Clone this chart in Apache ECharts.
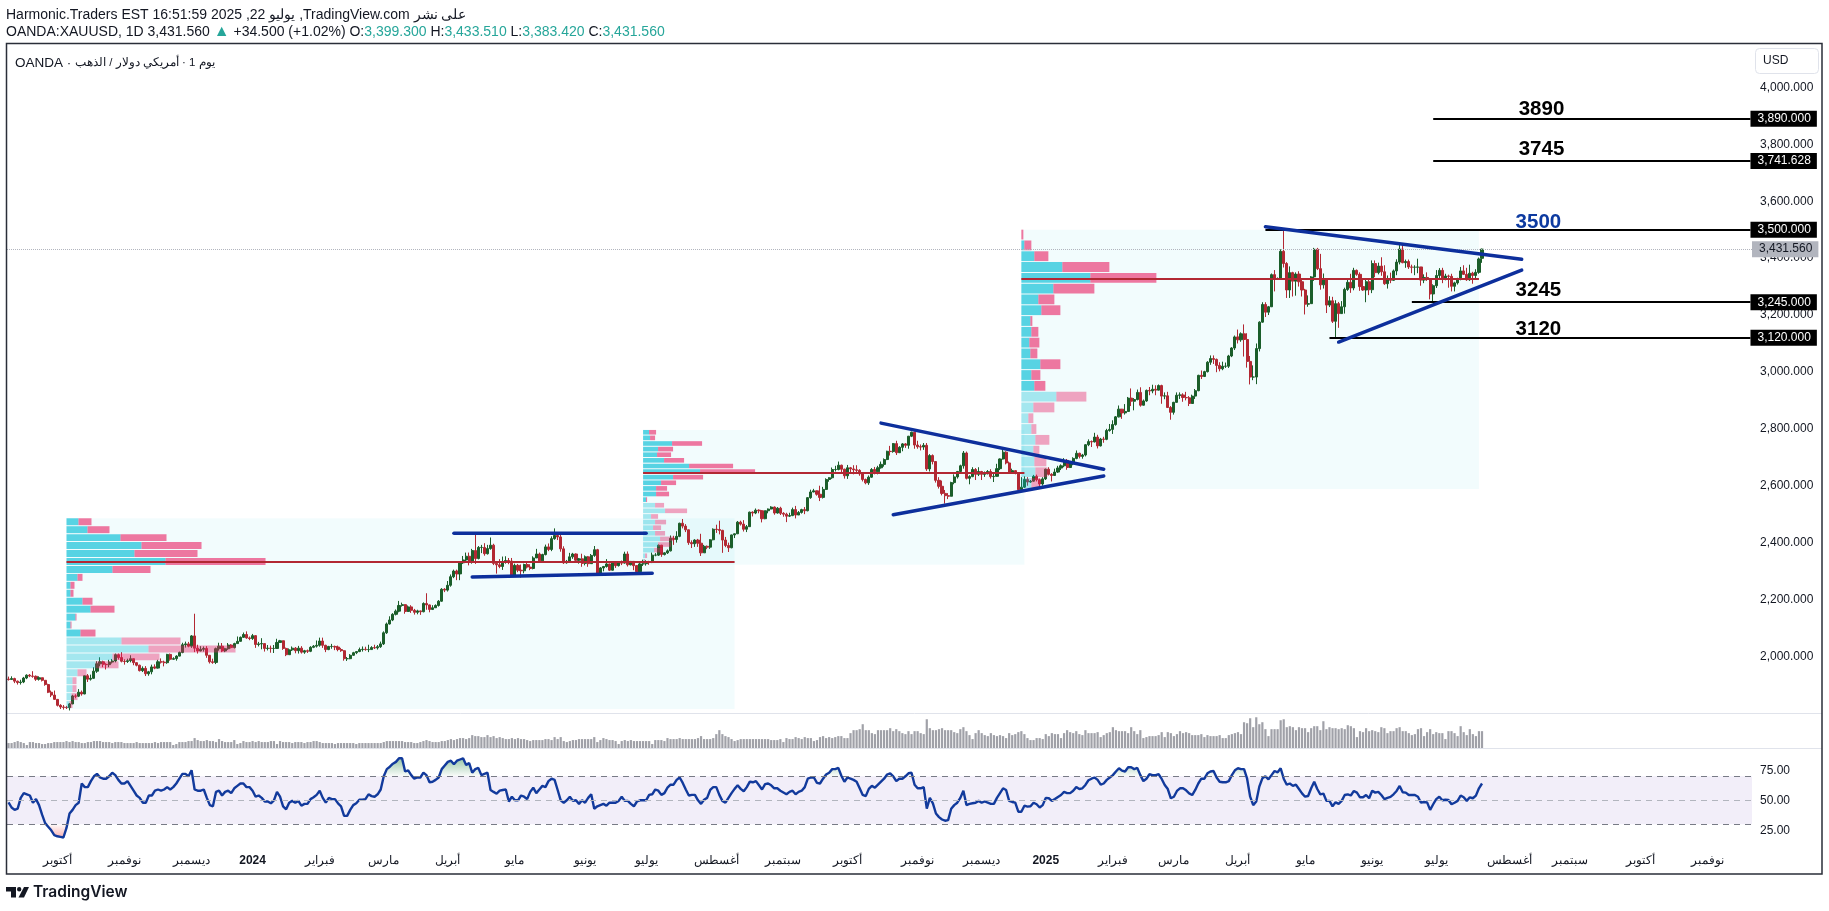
<!DOCTYPE html>
<html>
<head>
<meta charset="utf-8">
<title>XAUUSD</title>
<script src="https://cdn.jsdelivr.net/npm/echarts@6/dist/echarts.min.js"></script>
<style>
html, body { margin: 0; background: #fff; }
#chart { width: 1829px; height: 911px; }
</style>
</head>
<body>
<div id="chart"></div>
<script>
// daily bars, [open, close, low, high], one line per month
const ohlc = [
  [1920,1919,1915,1929],[1919,1922,1917,1930],[1922,1913,1906,1925],[1913,1908,1901,1915],[1908,1910,1901,1918],[1910,1924,1906,1928],[1924,1934,1920,1937],[1934,1931,1927,1938],[1931,1930,1925,1948],[1930,1920,1914,1933],[1920,1925,1915,1930],[1925,1916,1912,1926],[1916,1901,1897,1917],[1901,1874,1871,1904],[1874,1864,1857,1880],[1864,1849,1847,1880],
  [1849,1828,1824,1850],[1828,1822,1815,1832],[1822,1821,1813,1829],[1821,1820,1815,1826],[1820,1833,1810,1836],[1833,1861,1832,1865],[1861,1860,1853,1867],[1860,1874,1857,1885],[1874,1868,1862,1880],[1868,1932,1867,1933],[1932,1920,1910,1938],[1920,1923,1915,1936],[1923,1948,1921,1962],[1948,1974,1942,1983],[1974,1981,1965,1997],[1981,1972,1962,1985],[1972,1971,1954,1976],[1971,1980,1962,1988],[1980,1984,1975,1991],[1984,2006,1979,2010],[2006,1996,1989,2010],[1996,1983,1979,2015],
  [1983,1982,1971,1990],[1982,1985,1977,1992],[1985,1992,1979,2004],[1992,1978,1969,1992],[1978,1969,1965,1979],[1969,1950,1947,1971],[1950,1958,1945,1965],[1958,1939,1931,1966],[1939,1946,1932,1949],[1946,1963,1937,1971],[1963,1959,1955,1972],[1959,1981,1957,1988],[1981,1980,1975,1993],[1980,1978,1965,1985],[1978,2007,1974,2009],[2007,1990,1985,2010],[1990,1992,1988,1997],[1992,2001,1985,2004],[2001,2014,2000,2017],[2014,2041,2011,2048],[2041,2044,2031,2052],[2044,2036,2032,2051],
  [2036,2072,2030,2075],[2072,2029,2015,2150],[2029,2019,2010,2041],[2019,2025,2018,2036],[2025,2028,2017,2035],[2028,2004,1995,2036],[2004,1981,1975,2005],[1981,1979,1974,1992],[1979,2027,1973,2031],[2027,2036,2020,2048],[2036,2019,2015,2047],[2019,2027,2015,2030],[2027,2040,2023,2047],[2040,2031,2028,2043],[2031,2045,2028,2048],[2045,2053,2045,2070],[2053,2067,2052,2070],[2067,2077,2065,2084],[2077,2065,2062,2088],[2065,2063,2057,2070],
  [2063,2073,2058,2079],[2073,2042,2030,2074],[2042,2044,2035,2051],[2044,2045,2025,2064],[2045,2028,2017,2046],[2028,2029,2021,2040],[2029,2028,2013,2038],[2028,2028,2012,2040],[2028,2049,2027,2062],[2049,2055,2048,2058],[2055,2028,2023,2056],[2028,2006,2001,2031],[2006,2023,2006,2028],[2023,2029,2019,2035],[2029,2020,2011,2033],[2020,2029,2010,2037],[2029,2015,2010,2036],[2015,2020,2009,2023],[2020,2018,2012,2024],[2018,2032,2015,2036],[2032,2036,2029,2040],[2036,2039,2031,2056],
  [2039,2054,2034,2066],[2054,2039,2030,2066],[2039,2024,2015,2041],[2024,2035,2022,2037],[2035,2035,2027,2044],[2035,2033,2022,2038],[2033,2024,2018,2038],[2024,2020,2016,2030],[2020,1992,1985,2022],[1992,1992,1984,1998],[1992,2004,1990,2008],[2004,2013,2002,2016],[2013,2017,2008,2019],[2017,2024,2015,2031],[2024,2025,2017,2035],[2025,2024,2020,2034],[2024,2024,2015,2041],[2024,2031,2024,2036],[2031,2030,2026,2041],[2030,2034,2024,2040],[2034,2044,2030,2052],
  [2044,2083,2040,2088],[2083,2114,2079,2119],[2114,2128,2112,2141],[2128,2148,2124,2152],[2148,2159,2144,2165],[2159,2179,2155,2195],[2179,2182,2175,2189],[2182,2158,2150,2184],[2158,2174,2156,2179],[2174,2162,2153,2180],[2162,2155,2147,2167],[2155,2160,2148,2164],[2160,2157,2146,2161],[2157,2186,2155,2190],[2186,2181,2164,2222],[2181,2165,2155,2182],[2165,2171,2163,2180],[2171,2179,2171,2183],[2179,2194,2175,2198],[2194,2236,2192,2240],[2236,2233,2226,2240],
  [2233,2250,2228,2265],[2250,2280,2245,2288],[2280,2300,2275,2305],[2300,2290,2268,2305],[2290,2329,2268,2330],[2329,2339,2325,2353],[2339,2352,2335,2365],[2352,2333,2320,2365],[2333,2372,2326,2378],[2372,2344,2325,2431],[2344,2383,2341,2388],[2383,2383,2363,2392],[2383,2361,2354,2398],[2361,2379,2358,2392],[2379,2391,2375,2418],[2391,2327,2321,2396],[2327,2322,2291,2335],[2322,2316,2310,2342],[2316,2332,2304,2351],[2332,2337,2326,2352],[2337,2335,2324,2346],[2335,2286,2282,2346],
  [2286,2320,2281,2326],[2320,2303,2296,2325],[2303,2301,2277,2323],[2301,2323,2292,2326],[2323,2314,2309,2331],[2314,2309,2303,2324],[2309,2346,2306,2352],[2346,2360,2346,2378],[2360,2336,2332,2365],[2336,2358,2336,2361],[2358,2385,2355,2393],[2385,2376,2370,2397],[2376,2414,2370,2422],[2414,2425,2410,2450],[2425,2420,2409,2427],[2420,2378,2368,2427],[2378,2329,2325,2387],[2329,2334,2326,2339],[2334,2350,2333,2364],[2350,2360,2343,2364],[2360,2338,2333,2362],[2338,2343,2326,2346],[2343,2327,2315,2361],
  [2327,2350,2320,2355],[2350,2326,2315,2353],[2326,2355,2325,2360],[2355,2375,2350,2388],[2375,2293,2286,2378],[2293,2311,2290,2314],[2311,2316,2299,2318],[2316,2325,2312,2342],[2325,2303,2300,2326],[2303,2332,2302,2335],[2332,2319,2311,2335],[2319,2329,2316,2335],[2329,2328,2321,2337],[2328,2360,2326,2368],[2360,2322,2316,2369],[2322,2334,2320,2335],[2334,2319,2303,2335],[2319,2298,2293,2321],[2298,2325,2297,2330],[2325,2326,2318,2340],
  [2326,2332,2319,2338],[2332,2330,2322,2336],[2330,2356,2328,2365],[2356,2356,2352,2363],[2356,2391,2353,2393],[2391,2358,2350,2392],[2358,2364,2355,2366],[2364,2371,2360,2376],[2371,2415,2369,2425],[2415,2411,2392,2424],[2411,2422,2400,2440],[2422,2468,2419,2470],[2468,2458,2450,2483],[2458,2445,2437,2465],[2445,2400,2392,2446],[2400,2396,2381,2408],[2396,2409,2385,2412],[2409,2398,2385,2413],[2398,2364,2353,2431],[2364,2387,2364,2392],[2387,2384,2377,2390],[2384,2410,2378,2412],[2410,2447,2408,2450],
  [2447,2446,2434,2463],[2446,2443,2429,2477],[2443,2409,2364,2445],[2409,2390,2384,2420],[2390,2382,2367,2400],[2382,2427,2380,2428],[2427,2431,2416,2432],[2431,2472,2430,2476],[2472,2465,2460,2477],[2465,2447,2439,2479],[2447,2456,2437,2462],[2456,2507,2455,2509],[2507,2504,2492,2510],[2504,2514,2500,2520],[2514,2512,2503,2517],[2512,2484,2471,2514],[2484,2512,2482,2513],[2512,2518,2503,2520],[2518,2525,2517,2528],[2525,2504,2498,2527],[2504,2521,2502,2525],[2521,2503,2497,2526],
  [2503,2500,2491,2507],[2500,2493,2472,2505],[2493,2495,2490,2505],[2495,2516,2493,2523],[2516,2497,2485,2529],[2497,2506,2497,2511],[2506,2516,2502,2519],[2516,2512,2500,2525],[2512,2558,2510,2560],[2558,2578,2554,2586],[2578,2582,2577,2589],[2582,2570,2565,2583],[2570,2559,2546,2600],[2559,2587,2555,2596],[2587,2622,2585,2626],[2622,2628,2614,2630],[2628,2657,2624,2664],[2657,2657,2650,2670],[2657,2672,2654,2685],[2672,2658,2645,2674],[2658,2635,2625,2660],
  [2635,2663,2624,2673],[2663,2659,2644,2666],[2659,2656,2640,2672],[2656,2654,2642,2672],[2654,2642,2635,2658],[2642,2622,2615,2645],[2622,2610,2605,2625],[2610,2630,2603,2636],[2630,2657,2628,2662],[2657,2649,2640,2666],[2649,2663,2640,2670],[2663,2675,2660,2685],[2675,2692,2667,2696],[2692,2721,2690,2723],[2721,2720,2706,2740],[2720,2748,2716,2750],[2748,2716,2708,2758],[2716,2735,2715,2739],[2735,2747,2721,2750],[2747,2742,2733,2750],[2742,2774,2730,2775],[2774,2788,2771,2790],[2788,2743,2730,2790],
  [2743,2737,2730,2758],[2737,2736,2724,2745],[2736,2742,2726,2750],[2742,2659,2652,2750],[2659,2706,2650,2711],[2706,2685,2675,2710],[2685,2619,2611,2686],[2619,2598,2590,2630],[2598,2573,2566,2618],[2573,2565,2537,2585],[2565,2563,2553,2574],[2563,2611,2562,2614],[2611,2631,2605,2640],[2631,2650,2625,2652],[2650,2670,2645,2674],[2670,2715,2660,2722],[2715,2626,2622,2720],[2626,2632,2605,2637],[2632,2657,2630,2665],[2657,2640,2620,2662],[2640,2650,2634,2665],
  [2650,2640,2620,2652],[2640,2642,2631,2650],[2642,2650,2640,2655],[2650,2632,2625,2658],[2632,2633,2613,2645],[2633,2660,2632,2677],[2660,2694,2655,2696],[2694,2718,2692,2726],[2718,2680,2675,2721],[2680,2648,2645,2685],[2648,2653,2642,2660],[2653,2646,2640,2654],[2646,2586,2582,2648],[2586,2595,2583,2630],[2595,2622,2592,2633],[2622,2613,2600,2630],[2613,2616,2610,2620],[2616,2633,2614,2638],[2633,2621,2615,2639],[2621,2606,2597,2625],[2606,2624,2600,2630],
  [2624,2658,2620,2660],[2658,2640,2636,2665],[2640,2636,2615,2644],[2636,2648,2635,2660],[2648,2662,2645,2670],[2662,2670,2655,2675],[2670,2689,2665,2697],[2689,2664,2656,2694],[2664,2677,2662,2680],[2677,2696,2672,2700],[2696,2714,2693,2724],[2714,2703,2696,2716],[2703,2708,2695,2712],[2708,2744,2703,2746],[2744,2755,2739,2763],[2755,2754,2736,2759],[2754,2771,2752,2786],[2771,2740,2731,2779],[2740,2764,2738,2768],[2764,2763,2751,2772],[2763,2794,2760,2800],[2794,2798,2790,2817],
  [2798,2815,2782,2830],[2815,2842,2811,2845],[2842,2869,2840,2882],[2869,2856,2835,2870],[2856,2861,2850,2887],[2861,2908,2860,2912],[2908,2897,2880,2942],[2897,2903,2865,2908],[2903,2928,2900,2938],[2928,2883,2878,2946],[2883,2898,2882,2903],[2898,2935,2895,2938],[2935,2933,2918,2947],[2933,2939,2925,2955],[2939,2936,2918,2953],[2936,2952,2935,2956],[2952,2915,2888,2955],[2915,2916,2904,2928],[2916,2875,2873,2930],[2875,2858,2832,2880],
  [2858,2893,2850,2895],[2893,2918,2892,2928],[2918,2919,2905,2928],[2919,2910,2895,2925],[2910,2909,2900,2930],[2909,2889,2880,2915],[2889,2915,2888,2920],[2915,2934,2905,2940],[2934,2988,2932,2990],[2988,2984,2975,3005],[2984,3001,2982,3004],[3001,3034,2998,3038],[3034,3047,3025,3058],[3047,3044,3028,3058],[3044,3023,2999,3047],[3023,3011,3002,3034],[3011,3020,3006,3036],[3020,3020,3014,3033],[3020,3056,3014,3060],[3056,3084,3052,3087],[3084,3123,3077,3128],
  [3123,3113,3100,3149],[3113,3134,3106,3139],[3134,3114,3054,3167],[3114,3037,3015,3136],[3037,2982,2956,3056],[2982,2982,2971,3023],[2982,3082,2957,3100],[3082,3175,3072,3178],[3175,3237,3173,3245],[3237,3210,3193,3245],[3210,3229,3200,3232],[3229,3342,3228,3346],[3342,3327,3283,3358],[3327,3327,3325,3332],[3327,3424,3326,3431],[3424,3381,3367,3500],[3381,3288,3260,3386],[3288,3349,3260,3371],[3349,3319,3265,3352],[3319,3344,3268,3350],[3344,3317,3300,3354],[3317,3288,3265,3328],
  [3288,3238,3202,3292],[3238,3240,3229,3269],[3240,3334,3240,3337],[3334,3431,3320,3436],[3431,3363,3358,3436],[3363,3306,3289,3415],[3306,3325,3293,3346],[3325,3235,3207,3327],[3235,3250,3228,3266],[3250,3178,3172,3264],[3178,3240,3121,3252],[3240,3205,3155,3246],[3205,3229,3205,3249],[3229,3290,3205,3296],[3290,3315,3285,3326],[3315,3295,3278,3345],[3295,3357,3287,3366],[3357,3343,3338,3360],[3343,3300,3285,3350],[3300,3288,3285,3325],[3288,3317,3245,3330],[3317,3289,3270,3326],
  [3289,3381,3277,3392],[3381,3349,3333,3392],[3349,3372,3343,3384],[3372,3352,3338,3403],[3352,3310,3306,3375],[3310,3325,3293,3339],[3325,3322,3312,3349],[3322,3355,3320,3360],[3355,3386,3340,3396],[3386,3432,3378,3451],[3432,3384,3382,3452],[3384,3388,3366,3395],[3388,3369,3362,3395],[3369,3368,3347,3377],[3368,3368,3340,3375],[3368,3369,3347,3398],[3369,3323,3303,3369],[3323,3332,3312,3343],[3332,3328,3320,3350],[3328,3274,3255,3329],[3274,3303,3246,3308],
  [3303,3339,3295,3358],[3339,3357,3327,3365],[3357,3326,3312,3366],[3326,3337,3322,3345],[3337,3336,3296,3342],[3336,3301,3283,3345],[3301,3313,3283,3317],[3313,3325,3307,3331],[3325,3355,3322,3369],[3355,3343,3341,3375],[3343,3324,3320,3366],[3324,3347,3320,3377],[3347,3339,3310,3352],[3339,3350,3330,3361],[3350,3397,3345,3402],[3399.3,3431.56,3383.42,3433.51]
];

// volume, relative height of each bar
const volume = [
  5,5,6,7,6,5,3,6,6,5,5,4,4,5,5,6,6,6,6,7,
  6,7,6,6,5,5,6,6,7,7,7,6,6,6,5,6,6,6,5,5,
  5,5,6,5,5,5,5,5,6,5,6,6,6,6,3,4,6,6,6,7,
  7,10,8,7,7,8,7,7,6,9,7,6,6,6,8,4,5,7,6,6,
  7,6,7,6,6,6,7,7,4,7,6,6,6,5,6,6,6,5,6,6,
  7,7,6,5,5,5,5,4,5,5,5,5,5,5,4,5,5,5,5,5,
  5,5,5,6,7,7,7,7,7,7,6,6,6,5,5,6,7,
  8,7,6,6,6,7,7,8,9,8,9,10,10,9,10,13,12,12,11,11,13,11,12,10,11,
  10,9,9,10,9,10,9,9,8,7,8,8,8,8,9,9,8,11,9,11,
  7,6,7,8,8,9,9,9,9,9,11,6,8,10,9,8,8,7,4,7,
  8,7,8,7,7,7,7,7,7,4,8,8,8,7,10,9,9,9,10,9,
  9,9,9,9,10,12,9,9,9,10,14,18,14,12,11,9,7,8,9,9,
  9,9,9,9,9,9,9,9,8,8,8,9,6,10,9,9,11,10,9,11,
  10,10,7,8,11,12,10,11,10,11,12,12,10,10,15,18,18,19,24,18,
  18,15,14,18,18,18,18,20,17,19,17,15,14,17,14,17,17,15,14,29,
  20,18,18,19,20,18,18,18,16,15,19,21,17,13,9,15,18,15,13,12,15,13,12,
  13,12,10,15,13,14,16,17,14,10,8,8,10,10,9,14,12,15,14,14,
  10,15,18,16,15,17,14,13,18,15,15,15,16,11,13,15,16,21,18,17,
  17,17,15,21,17,14,18,10,11,12,12,12,13,16,11,16,15,12,14,17,
  15,16,15,13,13,13,14,11,13,12,12,12,13,10,10,13,14,15,16,14,
  26,25,30,21,31,24,26,19,12,19,19,19,28,29,21,22,21,18,21,20,
  20,16,20,22,22,18,27,19,21,20,20,19,20,19,23,22,20,11,17,16,20,
  17,18,17,16,21,20,15,17,17,20,21,17,17,15,13,14,19,20,12,16,
  19,14,16,15,15,9,17,17,15,12,22,16,13,19,14,12,17,17
];

const rsi = [
  48.3,44,42,43,52,56,55,54,48,51,46,38,31,28,25,21,20,19.5,19,27,
  39,42,46,48,64,61,61,66,70,72,69,68,68,70,73,71,67,64,64,66,
  62,58,54,52,48,48,54,54,58,59,58,59,61,59,61,64,68,72,72,70,
  75,59,58,58,59,52,46,45,57,58,54,57,58,56,60,62,64,64,61,61,
  58,53,54,52,49,49,47.5,50,57,53,45,42.5,48,49.5,48,49.5,45.5,47,47,51,
  52.5,54.5,58,52,48,52,51,51,47.5,45,37,37,42,46,47.5,50.5,50.5,51,55,53.5,
  53,55,59,70,76,78,80.5,82,85,85,74,75,71,68,69,69,73,71,65,65.5,
  67,69,76,79,82,83,80,83,84,85,79.5,81,73,76,77,71,72,73,58.6,57,
  55.5,58,58.6,59,49,53,50,50,54,53,51,57,60.5,56,59,62,61,66,68,67,
  58.6,50,48,50,53,49.5,50,47,50,48,52,55,43,45,46,47,45.5,48,48,48,
  49.5,53,49.5,49.5,47,45,49,50,50,50,54.5,55,59,58,54.5,56,60.5,63,63,67,
  69,64.5,59,54,54.5,54.5,50,47,50.5,52,58.6,61,61,54.5,49.5,48,52,56,59.5,62.5,
  59.5,57.5,61,65.5,65,66,62.5,59,63.5,64,62.5,60,60,58,56.5,55,57,58,55,57,
  58,61,68,69,69,64.5,64,68,71.5,73,76,76,77,70.5,65.5,69,68,67,65.5,60,
  54.5,53.5,59.5,62,60.5,63,65.5,68,71.5,72.5,70,66,68,68,70,72.5,73,63,60,60,
  61,43,52,47.5,39,36,34,33,33.5,43,46,48,52,58,46,47,47.5,48,49.5,48,
  49,48,47,47,52,
  56,60,58.6,49.5,48.6,48,40.5,40.5,45.5,44.7,45,48,46.7,44,46,52,51.7,49.5,51,52.8,
  54.4,57,56,56,58,61,59.4,60,62.8,66.7,68,69,67,63,64,67,69,71,74,76.7,
  74.7,74,77.5,77.5,76,77,71,66,68,71.7,71,71,71.7,67.8,62.8,59.4,51.7,53,57.8,60,
  60,58.3,55.8,54.4,58.6,64,68,68,72.5,74,74.4,69,65.5,65,65,66,71,75,76.7,76,
  76,68,53,46,49,61.4,68.3,70,67.5,71,74.4,73.3,76.7,68,63,64,62,63,59.4,55.8,
  53,53.6,60,65.5,59.4,55,55.6,49.5,49.5,45,48.3,47,49.5,54.4,55,54,57.8,56.4,52.5,52.5,
  54.4,51.7,58,56.4,57,54.4,51,52,52.8,55,57.8,62,56.7,56.4,54.4,54.4,54.4,53,48,48.6,
  48.3,42,46.7,51,53,50,50.5,50.3,46.7,48,49.5,54,52.5,49.5,52.5,51.7,53.9,60,64
];

// month labels and the bar each one sits on
const monthBars = [16,38,60,80,102,123,144,166,189,209,232,254,275,298,319,340,362,382,403,425,447,468,492,512,535,557];
const monthNames = ['أكتوبر','نوفمبر','ديسمبر','2024','فبراير','مارس','أبريل','مايو','يونيو','يوليو','أغسطس','سبتمبر','أكتوبر','نوفمبر','ديسمبر','2025','فبراير','مارس','أبريل','مايو','يونيو','يوليو','أغسطس','سبتمبر','أكتوبر','نوفمبر'];
const barSlots = 572;

// drawn horizontal levels
const levelPrices = [3890, 3741.628, 3500, 3245, 3120];
const levelStartBars = [467, 467, 412, 460, 433];
const levelTags = ['3,890.000', '3,741.628', '3,500.000', '3,245.000', '3,120.000'];
const levelTexts = ['3890', '3745', '3500', '3245', '3120'];
const levelTextColors = ['#000000', '#000000', '#0d3aa0', '#000000', '#000000'];
const levelTextBars = [502, 502, 501, 501, 501];
const levelTextPrices = [3928, 3787, 3531, 3292, 3154];
const lastPrice = 3431.56;

// drawn trend lines, [bar, price, bar, price]
const trendLines = [
  [146, 2433, 209, 2433],
  [152, 2279, 211, 2292],
  [286, 2820, 359, 2658],
  [290, 2498, 359, 2634],
  [412, 3510, 496, 3396],
  [436, 3105, 496, 3358]
];

// fixed range volume profiles, rows from top price to bottom price
const vp1Up = [12,21,54,75,68,99,46,11,4,4,16,24,9,4,14,55,82,46,29,11,6,6,5,3];
const vp1Total = [25,43,100,135,131,199,84,16,8,7,26,48,10,5,29,114,169,93,52,20,10,10,11,6];
const vp2Up = [6,7,29,15,14,21,46,57,30,18,13,13,3,12,22,8,12,10,12,17,15,11,2,1];
const vp2Total = [13,12,59,30,28,41,90,112,60,33,24,26,4,21,44,15,23,18,22,30,28,19,4,2];
const vp3Up = [0,3,13,41,69,32,17,20,9,10,8,9,19,10,13,35,12,7,10,14,12,13,14,10];
const vp3Total = [2,10,27,88,135,73,33,39,11,17,18,16,39,19,24,65,33,12,15,28,18,25,26,19];
const vpRanges = [
  { up: vp1Up, total: vp1Total, startBar: 19, endBar: 238, top: 2485.6, bottom: 1815, poc: 2332, paleFrom: 15 },
  { up: vp2Up, total: vp2Total, startBar: 208, endBar: 333, top: 2796, bottom: 2322.5, poc: 2646, paleFrom: 13 },
  { up: vp3Up, total: vp3Total, startBar: 332, endBar: 482, top: 3500, bottom: 2588.6, poc: 3327, paleFrom: 15 }
];

const FONT = '"Liberation Sans", Arial, sans-serif';
const TEXT = '#131722';
const UP = '#1b5e2a';
const DOWN = '#b22833';
const BLUE = '#0d2f9c';

const categories = [];
for (let i = 0; i < barSlots; i++) {
  const k = monthBars.indexOf(i);
  categories.push(k >= 0 ? monthNames[k] : '');
}

const vpRows = [];
vpRanges.forEach(function (r) {
  const pitch = (r.top - r.bottom) / r.up.length;
  r.up.forEach(function (u, k) {
    vpRows.push([r.startBar, r.top - k * pitch, r.top - (k + 1) * pitch, u, r.total[k], k >= r.paleFrom ? 1 : 0]);
  });
});

function renderProfile(params, api) {
  const start = api.coord([api.value(0), api.value(1)]);
  const end = api.coord([api.value(0), api.value(2)]);
  const unit = api.size([1, 0])[0] / 3.05;
  const pale = api.value(5);
  const h = end[1] - start[1] - 1;
  const upW = api.value(3) * unit;
  const totalW = api.value(4) * unit;
  return {
    type: 'group',
    children: [
      { type: 'rect', shape: { x: start[0], y: start[1], width: upW, height: h },
        style: { fill: pale ? 'rgba(0,188,212,0.32)' : 'rgba(0,188,212,0.64)' } },
      { type: 'rect', shape: { x: start[0] + upW, y: start[1], width: totalW - upW, height: h },
        style: { fill: pale ? 'rgba(233,30,99,0.4)' : 'rgba(233,30,99,0.6)' } }
    ]
  };
}

const tagLabel = { show: true, position: 'end', distance: 0, formatter: '{b}', fontFamily: FONT, fontSize: 12, padding: [2, 6, 2, 7], lineHeight: 12 };

const priceAxisLabel = function (v) {
  if (v < 2000 || v > 4000) return '';
  return v.toLocaleString('en-US', { minimumFractionDigits: 3 });
};

const option = {
  animation: false,
  backgroundColor: '#ffffff',
  textStyle: { fontFamily: FONT },
  grid: [
    { left: 7, width: 1745, top: 44, height: 669.3 },
    { left: 7, width: 1745, top: 713.3, height: 34.7 },
    { left: 7, width: 1745, top: 740.3, height: 120 },
    { left: 7, width: 1745, top: 850, height: 1 }
  ],
  xAxis: [
    { type: 'category', gridIndex: 0, data: categories, boundaryGap: true, show: false },
    { type: 'category', gridIndex: 1, data: categories, boundaryGap: true, show: false },
    { type: 'category', gridIndex: 2, data: categories, boundaryGap: true, show: false },
    { type: 'category', gridIndex: 3, data: categories, boundaryGap: true,
      axisLine: { show: false }, axisTick: { show: false },
      axisLabel: {
        interval: 0, margin: 4, fontSize: 12, color: TEXT, fontFamily: FONT,
        formatter: function (v) { return /^\d+$/.test(v) ? '{y|' + v + '}' : v; },
        rich: { y: { fontWeight: 'bold', fontSize: 12, color: TEXT, fontFamily: FONT } }
      } }
  ],
  yAxis: [
    { type: 'value', gridIndex: 0, position: 'right', min: 1800, max: 4152.7, interval: 200, scale: true,
      splitLine: { show: false }, axisLine: { show: false }, axisTick: { show: false },
      axisLabel: { show: true, color: TEXT, fontSize: 12, fontFamily: FONT, margin: 8, formatter: priceAxisLabel, showMaxLabel: false, showMinLabel: false } },
    { type: 'value', gridIndex: 1, min: 0, max: 35, show: false },
    { type: 'value', gridIndex: 2, position: 'right', min: 0, max: 100, interval: 25,
      splitLine: { show: false }, axisLine: { show: false }, axisTick: { show: false },
      axisLabel: { color: TEXT, fontSize: 12, fontFamily: FONT, margin: 8, showMaxLabel: false, showMinLabel: false,
        formatter: function (v) { return v > 0 && v < 100 ? v.toFixed(2) : ''; } } },
    { type: 'value', gridIndex: 3, show: false }
  ],
  series: [
    // profile background rectangles
    { type: 'line', xAxisIndex: 0, yAxisIndex: 0, data: [], z: 0, silent: true,
      markArea: { silent: true, itemStyle: { color: 'rgba(0,188,212,0.05)' },
        data: vpRanges.map(function (r) { return [{ coord: [r.startBar, r.top] }, { coord: [r.endBar, r.bottom] }]; }) } },
    { type: 'candlestick', xAxisIndex: 0, yAxisIndex: 0, data: ohlc, z: 2, barWidth: 2.6, silent: true,
      progressive: 0,
      itemStyle: { color: UP, color0: DOWN, borderColor: UP, borderColor0: DOWN, borderWidth: 1 } },
    // point of control lines
    { type: 'line', xAxisIndex: 0, yAxisIndex: 0, data: [], z: 3, silent: true,
      markLine: { silent: true, symbol: ['none', 'none'], label: { show: false },
        lineStyle: { color: DOWN, width: 2, type: 'solid' },
        data: vpRanges.map(function (r) { return [{ coord: [r.startBar, r.poc] }, { coord: [r.endBar, r.poc] }]; }) } },
    { type: 'custom', xAxisIndex: 0, yAxisIndex: 0, z: 4, silent: true, data: vpRows, renderItem: renderProfile,
      encode: { x: 0, y: [1, 2] } },
    // last price line and tag
    { type: 'line', xAxisIndex: 0, yAxisIndex: 0, data: [], z: 4, silent: true,
      markLine: { silent: true, symbol: ['none', 'none'],
        lineStyle: { color: '#b2b5be', width: 1, type: 'dotted' },
        label: Object.assign({}, tagLabel, { color: TEXT, backgroundColor: '#b2b5be' }),
        data: [{ name: '3,431.560', yAxis: lastPrice }] } },
    // horizontal levels with black price tags
    { type: 'line', xAxisIndex: 0, yAxisIndex: 0, data: [], z: 5, silent: true,
      markLine: { silent: true, symbol: ['none', 'none'],
        lineStyle: { color: '#000000', width: 2, type: 'solid' },
        label: Object.assign({}, tagLabel, { color: '#ffffff', backgroundColor: '#000000' }),
        data: levelPrices.map(function (p, k) {
          return [{ name: levelTags[k], coord: [levelStartBars[k], p] }, { coord: [barSlots - 1, p] }];
        }) } }
  ].concat(trendLines.map(function (t) {
    return { type: 'line', xAxisIndex: 0, yAxisIndex: 0, z: 6, silent: true, showSymbol: false, symbol: 'none',
      lineStyle: { color: BLUE, width: 3.5, cap: 'round' },
      data: [[t[0], t[1]], [t[2], t[3]]] };
  })).concat([
    // level captions
    { type: 'scatter', xAxisIndex: 0, yAxisIndex: 0, z: 7, silent: true, symbolSize: 1,
      itemStyle: { color: 'transparent', opacity: 1 },
      data: levelTexts.map(function (t, k) {
        return { value: [levelTextBars[k], levelTextPrices[k]],
          label: { show: true, position: 'inside', offset: [1.5, 1.5], formatter: t, fontSize: 20.5, fontWeight: 'bold', fontFamily: FONT, color: levelTextColors[k], opacity: 1 } };
      }) },
    { type: 'bar', xAxisIndex: 1, yAxisIndex: 1, data: volume, barWidth: 2.2, silent: true,
      itemStyle: { color: '#a0a1a8' } },
    // rsi band and its dashed bounds
    { type: 'line', xAxisIndex: 2, yAxisIndex: 2, data: [], z: 1, silent: true,
      markArea: { silent: true, itemStyle: { color: 'rgba(126,87,194,0.1)' }, data: [[{ yAxis: 70 }, { yAxis: 30 }]] },
      markLine: { silent: true, symbol: ['none', 'none'], label: { show: false },
        data: [
          { yAxis: 70, lineStyle: { color: '#787b86', width: 1, type: [6, 5] } },
          { yAxis: 50, lineStyle: { color: '#b2b5be', width: 1, type: [6, 5] } },
          { yAxis: 30, lineStyle: { color: '#787b86', width: 1, type: [6, 5] } }
        ] } },
    { type: 'line', xAxisIndex: 2, yAxisIndex: 2, z: 2, silent: true, symbol: 'none', lineStyle: { width: 0 },
      data: rsi.map(function (v) { return Math.max(v, 70); }),
      areaStyle: { origin: 70, opacity: 1, color: new echarts.graphic.LinearGradient(0, 0, 0, 1, [
        { offset: 0, color: 'rgba(27,130,60,0.45)' }, { offset: 1, color: 'rgba(27,130,60,0.02)' }]) } },
    { type: 'line', xAxisIndex: 2, yAxisIndex: 2, z: 2, silent: true, symbol: 'none', lineStyle: { width: 0 },
      data: rsi.map(function (v) { return Math.min(v, 30); }),
      areaStyle: { origin: 30, opacity: 1, color: new echarts.graphic.LinearGradient(0, 0, 0, 1, [
        { offset: 0, color: 'rgba(240,60,60,0.02)' }, { offset: 1, color: 'rgba(240,60,60,0.4)' }]) } },
    { type: 'line', xAxisIndex: 2, yAxisIndex: 2, z: 3, silent: true, symbol: 'none', data: rsi,
      lineStyle: { color: '#123a9c', width: 2.4 } },
    { type: 'line', xAxisIndex: 3, yAxisIndex: 3, data: [], silent: true }
  ]),
  graphic: [
    { type: 'text', left: 6, top: 8, silent: true, z: 20,
      style: {
        text: '{d|Harmonic.Traders EST 16:51:59 2025 ,22 }{d|يوليو}{d| ,TradingView.com }{d|نشر}{d| }{d|على}',
        font: '14px ' + FONT,
        rich: { d: { fill: TEXT, font: '14px ' + FONT } }
      } },
    { type: 'text', left: 6, top: 24, silent: true, z: 20,
      style: {
        text: '{d|OANDA:XAUUSD, 1D 3,431.560 }{a|▲}{d| +34.500 (+1.02%) O:}{t|3,399.300}{d| H:}{t|3,433.510}{d| L:}{t|3,383.420}{d| C:}{t|3,431.560}',
        font: '14px ' + FONT,
        rich: {
          d: { fill: TEXT, font: '14px ' + FONT },
          t: { fill: '#26a69a', font: '14px ' + FONT },
          a: { fill: '#26a69a', font: '16px ' + FONT }
        }
      } },
    { type: 'text', left: 15, top: 56, silent: true, z: 20,
      style: {
        text: '{o|OANDA · }{a|الذهب}{a| / }{a|دولار}{a| }{a|أمريكي}{a| · 1 }{a|يوم}',
        font: '13px ' + FONT,
        rich: {
          o: { fill: TEXT, font: '13.5px ' + FONT },
          a: { fill: TEXT, font: '11.5px ' + FONT }
        }
      } },
    { type: 'rect', silent: true, z: 19, shape: { x: 1755.5, y: 48.5, width: 63, height: 25, r: 4 },
      style: { fill: '#ffffff', stroke: '#e0e3eb', lineWidth: 1 } },
    { type: 'text', left: 1763, top: 55, silent: true, z: 20,
      style: { text: 'USD', font: '12px ' + FONT, fill: TEXT } },
    // pane separators run through the price axis
    { type: 'line', silent: true, z: 1, shape: { x1: 7, y1: 713.5, x2: 1822, y2: 713.5 }, style: { stroke: '#e0e3eb', lineWidth: 1 } },
    { type: 'line', silent: true, z: 1, shape: { x1: 7, y1: 748.5, x2: 1822, y2: 748.5 }, style: { stroke: '#e0e3eb', lineWidth: 1 } },
    { type: 'rect', silent: true, z: 18, shape: { x: 6.5, y: 43.5, width: 1815.5, height: 830.5 },
      style: { fill: 'none', stroke: '#2a2e39', lineWidth: 1.5 } },
    // logo
    { type: 'polygon', silent: true, z: 20, shape: { points: [[6, 887], [16, 887], [16, 897.5], [11, 897.5], [11, 891.5], [6, 891.5]] }, style: { fill: TEXT } },
    { type: 'circle', silent: true, z: 20, shape: { cx: 19.2, cy: 889.2, r: 2.2 }, style: { fill: TEXT } },
    { type: 'polygon', silent: true, z: 20, shape: { points: [[24, 887], [29, 887], [24, 897.5], [18.5, 897.5]] }, style: { fill: TEXT } },
    { type: 'text', left: 33, top: 884, silent: true, z: 20,
      style: { text: 'TradingView', font: '600 15.5px Inter, ' + FONT, fill: TEXT } }
  ]
};

const chart = echarts.init(document.getElementById('chart'), null, { renderer: 'canvas' });
chart.setOption(option);
</script>
</body>
</html>
